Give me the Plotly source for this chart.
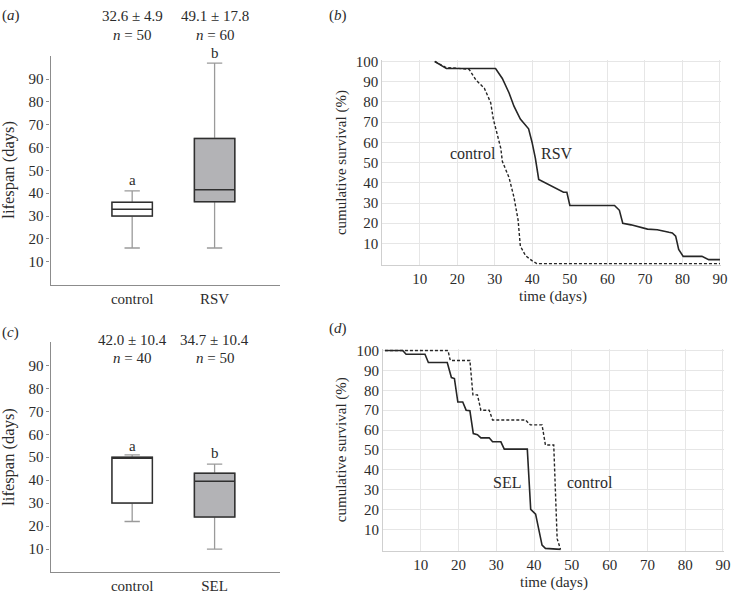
import plotly.graph_objects as go

# panel (a): lifespan box stats, control vs RSV
a_groups = ["control", "RSV"]
a_q1 = [30, 36.3]
a_med = [33, 41.5]
a_q3 = [36, 64]
a_low = [16, 16]
a_high = [41, 97]
a_stats = ["32.6 ± 4.9", "49.1 ± 17.8"]
a_n = [50, 60]
a_letters = ["a", "b"]
a_letter_y = [46, 101.3]

# panel (c): lifespan box stats, control vs SEL
c_groups = ["control", "SEL"]
c_q1 = [30, 24]
c_med = [49.8, 39.5]
c_q3 = [50, 43]
c_low = [22, 10]
c_high = [51, 47]
c_stats = ["42.0 ± 10.4", "34.7 ± 10.4"]
c_n = [40, 50]
c_letters = ["a", "b"]
c_letter_y = [54.7, 51.9]

# panel (b): survival curves
b_ctrl_t = [14, 17, 22.3, 23.2, 25, 27.2, 28.9, 29.6, 30.5, 31.6, 32, 33.8, 35.1, 36.2, 36.8, 38.2, 39.9, 41.2, 90]
b_ctrl_s = [100, 97, 96.3, 96, 90.8, 86.8, 79.6, 71.5, 65, 57, 50.6, 42.5, 32.9, 21.6, 8.7, 3.9, 1.5, 0, 0]
b_rsv_t = [14, 17.1, 30.2, 32, 33.8, 35.1, 36.8, 39, 39.9, 40.8, 41.7, 48.3, 49.2, 50, 61.9, 63.2, 64.1,
           66.3, 70.7, 73.3, 76.4, 77.3, 78.2, 79, 80.2, 85.2, 87, 90]
b_rsv_s = [100, 96.5, 96.5, 91.6, 84.4, 77.9, 71.5, 66.7, 60.2, 52.2, 41.7, 35.3, 35.3, 28.8, 28.8, 26.4, 20,
           19.2, 17.1, 16.8, 15.5, 15.2, 13.6, 7.1, 3.6, 3.6, 2, 2]

# panel (d): survival curves
d_ctrl_t = [0.5, 17.2, 17.8, 23, 23.8, 25, 25.9, 28.1, 29, 37.7, 39, 42.1, 43, 45.2, 46.1, 47]
d_ctrl_s = [100, 100, 95, 95, 77.7, 77.7, 70, 70, 65.1, 65.1, 62.6, 62.6, 52.5, 52.5, 5.4, 0]
d_sel_t = [0.5, 5.2, 6.1, 11.1, 12, 17, 18.1, 18.9, 19.8, 21.1, 22, 23, 23.9, 25, 25.9, 28.1, 29, 31.2,
           32.1, 38.2, 39.1, 40.4, 42.1, 43, 47]
d_sel_s = [100, 100, 98.1, 98.1, 94, 94, 86.4, 85.9, 74.1, 74.1, 70, 69.7, 58.2, 57.7, 56.1, 56.1, 54.1,
           54.1, 50.4, 50.4, 20.1, 17.7, 2.1, 0.5, 0]

box_ticks = [10, 20, 30, 40, 50, 60, 70, 80, 90]
surv_yticks = [10, 20, 30, 40, 50, 60, 70, 80, 90, 100]
surv_xticks = [10, 20, 30, 40, 50, 60, 70, 80, 90]

W, H = 736, 594
FONT = "'Liberation Serif', 'Times New Roman', Tinos, 'DejaVu Serif', serif"
TXT = "#2b2b2b"
fills = ["white", "#b3b3b6"]

fig = go.Figure()


def px(x):
    return x / W


def py(y):
    return 1 - y / H


def addBoxes(groups, q1, med, q3, low, high, xa, ya):
    for i, g in enumerate(groups):
        # whiskers in light grey
        fig.add_trace(go.Box(x=[g], q1=[q1[i]], median=[med[i]], q3=[q3[i]],
                             lowerfence=[low[i]], upperfence=[high[i]],
                             width=0.49, whiskerwidth=0.38, fillcolor="rgba(0,0,0,0)",
                             line=dict(color="#9a9a9a", width=1.3),
                             xaxis=xa, yaxis=ya, showlegend=False, hoverinfo="skip"))
        # box body on top in dark
        fig.add_trace(go.Box(x=[g], q1=[q1[i]], median=[med[i]], q3=[q3[i]],
                             lowerfence=[q1[i]], upperfence=[q3[i]],
                             width=0.49, whiskerwidth=0, fillcolor=fills[i],
                             line=dict(color="#303030", width=1.5),
                             xaxis=xa, yaxis=ya, showlegend=False, hoverinfo="skip"))


addBoxes(a_groups, a_q1, a_med, a_q3, a_low, a_high, "x", "y")
addBoxes(c_groups, c_q1, c_med, c_q3, c_low, c_high, "x3", "y3")

lineCol = "#262626"
fig.add_trace(go.Scatter(x=b_ctrl_t, y=b_ctrl_s, mode="lines", xaxis="x2", yaxis="y2",
                         line=dict(color=lineCol, width=1.4, dash="3px,2px"), showlegend=False))
fig.add_trace(go.Scatter(x=b_rsv_t, y=b_rsv_s, mode="lines", xaxis="x2", yaxis="y2",
                         line=dict(color=lineCol, width=1.6), showlegend=False))
fig.add_trace(go.Scatter(x=d_ctrl_t, y=d_ctrl_s, mode="lines", xaxis="x4", yaxis="y4",
                         line=dict(color=lineCol, width=1.4, dash="3px,2px"), showlegend=False))
fig.add_trace(go.Scatter(x=d_sel_t, y=d_sel_s, mode="lines", xaxis="x4", yaxis="y4",
                         line=dict(color=lineCol, width=1.6), showlegend=False))

tickfont = dict(family=FONT, size=15, color=TXT)

boxX = dict(range=[-0.99, 1.79], showline=True, linecolor="#8c8c8c", linewidth=1.3,
            showgrid=False, zeroline=False, ticks="", tickfont=tickfont, fixedrange=True)
boxY = dict(range=[0, 100], tickvals=box_ticks, showline=True, linecolor="#8c8c8c", linewidth=1.3,
            showgrid=False, zeroline=False, ticks="outside", ticklen=3, tickcolor="#8c8c8c",
            tickfont=tickfont)
survX = dict(range=[0, 90.3], tickvals=surv_xticks, showline=True, linecolor="#cfcfcf", linewidth=1,
             showgrid=True, gridcolor="#e6e6e6", gridwidth=1, zeroline=False, ticks="",
             tickfont=tickfont)
survY = dict(range=[-0.6, 100.6], tickvals=surv_yticks, showline=True, linecolor="#cfcfcf", linewidth=1,
             showgrid=True, gridcolor="#e6e6e6", gridwidth=1, zeroline=False, ticks="",
             tickfont=tickfont)

fig.update_layout(
    width=W, height=H,
    margin=dict(l=0, r=0, t=0, b=0),
    paper_bgcolor="white", plot_bgcolor="white",
    font=dict(family=FONT, size=15, color=TXT),
    xaxis=dict(boxX, domain=[px(51), px(282)], anchor="y"),
    yaxis=dict(boxY, domain=[py(281.3), py(50)], anchor="x"),
    xaxis3=dict(boxX, domain=[px(51), px(282)], anchor="y3"),
    yaxis3=dict(boxY, domain=[py(572.7), py(340)], anchor="x3"),
    xaxis2=dict(survX, domain=[px(385.4), px(727)], anchor="y2"),
    yaxis2=dict(survY, domain=[py(261.4), py(54)], anchor="x2"),
    xaxis4=dict(survX, domain=[px(386.2), px(730)], anchor="y4"),
    yaxis4=dict(survY, domain=[py(551), py(347)], anchor="x4"),
)

ann = []


def txt(text, x, y, xref="paper", yref="paper", angle=0, size=15):
    ann.append(dict(text=text, x=x, y=y, xref=xref, yref=yref, showarrow=False,
                    textangle=angle, font=dict(family=FONT, size=size, color=TXT),
                    xanchor="center", yanchor="middle"))


# panel letters
txt("(<i>a</i>)", px(11), py(9))
txt("(<i>b</i>)", px(341), py(9))
txt("(<i>c</i>)", px(11), py(330))
txt("(<i>d</i>)", px(341), py(326))

# stats above the boxes; letters placed via axis-domain fraction (range 0-100)
for i, g in enumerate(a_groups):
    txt(a_stats[i], g, py(9.5), xref="x")
    txt("<i>n</i> = %d" % a_n[i], g, py(28.5), xref="x")
    txt(a_letters[i], g, a_letter_y[i] / 100, xref="x", yref="y domain")
for i, g in enumerate(c_groups):
    txt(c_stats[i], g, py(337.5), xref="x3")
    txt("<i>n</i> = %d" % c_n[i], g, py(356), xref="x3")
    txt(c_letters[i], g, c_letter_y[i] / 100, xref="x3", yref="y3 domain")

# axis titles
txt("lifespan (days)", px(9), py(165), angle=-90, size=16.5)
txt("lifespan (days)", px(9), py(456), angle=-90, size=16.5)
txt("cumulative survival (%)", px(345), py(158), angle=-90)
txt("cumulative survival (%)", px(345), py(449), angle=-90)
txt("time (days)", px(557.5), py(293))
txt("time (days)", px(559), py(583))

# curve labels
txt("control", 24.1, 54.6, xref="x2", yref="y2", size=16)
txt("RSV", 46.5, 54.6, xref="x2", yref="y2", size=16)
txt("SEL", 32.9, 33.5, xref="x4", yref="y4", size=16)
txt("control", 54.8, 33.5, xref="x4", yref="y4", size=16)

fig.update_layout(annotations=ann)

fig.write_html("out.html", config={"displayModeBar": False},
               post_script="document.body.style.margin='0';")
